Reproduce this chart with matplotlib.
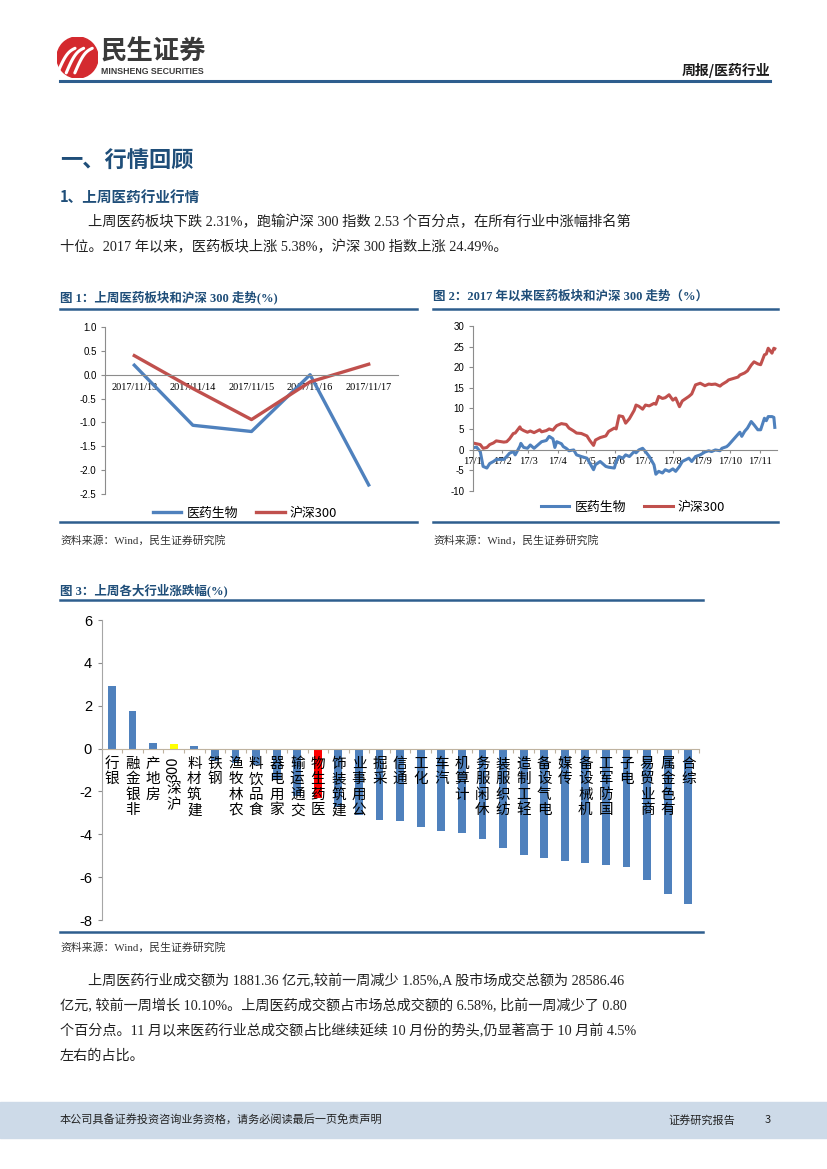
import numpy as np
import pandas as pd
import matplotlib
matplotlib.use('Agg')
from matplotlib import pyplot as plt
import matplotlib.transforms as mtrans
from matplotlib.patches import Rectangle, Circle

plt.rcParams['font.family'] = ['Noto Sans CJK SC', 'DejaVu Sans']
plt.rcParams['axes.unicode_minus'] = False

W, H = 827, 1169

# 图1 上周医药板块和沪深300走势
week_days = ['2017/11/13', '2017/11/14', '2017/11/15', '2017/11/16', '2017/11/17']
week_yiyao = [0.20, -1.06, -1.19, 0.00, -2.31]
week_hs300 = [0.40, -0.29, -0.94, -0.15, 0.22]

# 图2 2017年以来走势
ytd_dates = ['01-03', '01-05', '01-09', '01-12', '01-16', '01-19', '01-23', '01-26',
             '02-03', '02-06', '02-09', '02-13', '02-15', '02-20', '02-21', '02-24',
             '02-28', '03-03', '03-07', '03-13', '03-15', '03-20', '03-23', '03-27',
             '03-29', '03-31', '04-05', '04-07', '04-10', '04-13', '04-18', '04-21',
             '04-26', '05-02', '05-05', '05-09', '05-11', '05-16', '05-22', '05-25',
             '05-31', '06-02', '06-05', '06-09', '06-12', '06-16', '06-21', '06-23',
             '06-26', '06-30', '07-03', '07-07', '07-12', '07-14', '07-17', '07-21',
             '07-24', '07-28', '08-01', '08-04', '08-08', '08-11', '08-18', '08-21',
             '08-25', '08-30', '09-04', '09-08', '09-11', '09-15', '09-20', '09-22',
             '09-27', '09-29', '10-09', '10-11', '10-13', '10-16', '10-19', '10-23',
             '10-26', '10-30', '11-02', '11-06', '11-08', '11-10', '11-14', '11-16',
             '11-17']
ytd_yiyao = [0.5, 0.6, -0.5, -4.1, -4.5, -3.4, -2.9, -2.4,
             -2.4, -1.7, -0.9, -0.5, -1.3, 0.8, 1.5, 0.5,
             0.3, 1.1, 0.3, 1.5, 1.9, 2.2, 3.2, 2.6,
             0.5, 1.9, 1.4, 0.7, 0.3, -0.3, -0.1, -1.3,
             -1.7, -2.1, -3.3, -4.9, -3.7, -2.9, -4.1, -4.3,
             -4.5, -2.9, -1.7, -2.1, -1.3, -1.7, -0.5, -0.8,
             -0.1, 0.3, -0.5, -1.7, -3.7, -6.0, -5.3, -5.7,
             -4.9, -5.3, -4.7, -5.3, -4.1, -2.9, -2.1, -2.9,
             -1.7, -1.3, -0.6, -0.3, -0.5, -0.1, -0.3, 0.3,
             0.7, 1.1, 3.7, 4.2, 3.2, 4.4, 5.2, 6.8,
             6.0, 4.8, 4.8, 7.6, 7.0, 8.0, 8.0, 7.8,
             5.38]
ytd_hs300 = [1.5, 1.4, 1.2, 0.3, 0.5, 1.2, 1.6, 2.1,
             1.8, 1.9, 2.6, 3.9, 4.0, 5.5, 5.0, 4.6,
             4.2, 4.5, 4.1, 4.8, 4.3, 4.6, 5.0, 4.7,
             5.3, 5.8, 6.3, 6.2, 6.1, 5.2, 4.5, 4.0,
             3.9, 3.3, 2.2, 1.0, 2.3, 2.9, 3.3, 4.4,
             5.2, 5.0, 8.2, 8.0, 6.4, 7.5, 9.5, 10.8,
             10.5, 9.8, 10.8, 10.6, 11.2, 11.0, 12.9, 12.4,
             12.6, 13.3, 12.0, 12.5, 10.4, 11.8, 12.9, 13.5,
             15.7, 16.1, 15.5, 15.9, 15.8, 15.9, 15.4, 15.8,
             16.5, 16.9, 17.6, 18.1, 18.3, 18.6, 19.1, 20.5,
             21.3, 20.8, 20.6, 23.0, 23.2, 24.6, 23.4, 24.6,
             24.49]
month_labels = ['17/1', '17/2', '17/3', '17/4', '17/5', '17/6',
                '17/7', '17/8', '17/9', '17/10', '17/11']

# 图3 上周各大行业涨跌幅
industries = ['银行', '非银金融', '房地产', '沪深300', '建筑材料', '钢铁', '农林牧渔',
              '食品饮料', '家用电器', '交通运输', '医药生物', '建筑装饰', '公用事业', '采掘',
              '通信', '化工', '汽车', '计算机', '休闲服务', '纺织服装', '轻工制造',
              '电气设备', '传媒', '机械设备', '国防军工', '电子', '商业贸易', '有色金属', '综合']
industry_chg = [2.91, 1.76, 0.26, 0.22, 0.10, -0.60, -0.65,
                -0.78, -1.48, -2.22, -2.31, -2.74, -3.10, -3.31,
                -3.39, -3.66, -3.84, -3.94, -4.22, -4.65, -4.95,
                -5.12, -5.26, -5.32, -5.41, -5.54, -6.13, -6.80, -7.27]

BLUE = '#4F81BD'
RED = '#C0504D'
NAVY = '#1F4E79'
RULE = '#2E5E8E'
AXIS = '#8C8C8C'
SERIF = ['Liberation Serif', 'Noto Sans CJK SC']

fig = plt.figure(figsize=(W / 100, H / 100), dpi=100)


def box(l, t, r, b):
    return [l / W, 1 - b / H, (r - l) / W, (b - t) / H]


def ftext(x, y, s, **kw):
    kw.setdefault('va', 'center')
    fig.text(x / W, 1 - y / H, s, **kw)


def hline(x0, x1, y, color=RULE, lw=1.8):
    fig.add_artist(plt.Line2D([x0 / W, x1 / W], [1 - y / H, 1 - y / H], color=color, lw=lw))


def stack_label(ax, tr, x, label, top_y, size=10.5, pitch=15.5):
    # 竖排标签：从下往上读，汉字直立，数字旋转
    tokens = []
    for ch in label:
        if ch.isascii() and tokens and tokens[-1].isascii():
            tokens[-1] += ch
        else:
            tokens.append(ch)
    y = top_y
    for tok in reversed(tokens):
        if tok.isascii():
            h = len(tok) * size * 1.389 * 0.58
            ax.text(x, 1 - (y + h / 2) / H, tok, transform=tr, rotation=90, ha='center',
                    va='center', fontsize=size, color='black', zorder=5)
        else:
            h = pitch
            ax.text(x, 1 - (y + h / 2) / H, tok, transform=tr, ha='center', va='center',
                    fontsize=size, color='black', zorder=5)
        y += h


# ---- 页眉
logo = fig.add_axes(box(57, 37, 98, 78))
logo.set_xlim(-1, 1)
logo.set_ylim(-1, 1)
logo.set_aspect('equal')
logo.axis('off')
logo.add_patch(Circle((0, 0), 1, color='#D42A2F'))
for d in [-0.42, 0.0, 0.42]:
    t = np.linspace(0, 1, 20)
    xx = -0.55 + d + 0.85 * t
    yy = -0.75 + 1.2 * t + 0.25 * np.sin(np.pi * t)
    logo.plot(xx, yy, color='white', lw=2.2, solid_capstyle='round')
ftext(101, 52, '民生证券', fontsize=19, fontweight='bold', color='#3A3A3A')
ftext(101, 72, 'MINSHENG SECURITIES', fontsize=6.3, fontweight='bold', color='#3A3A3A',
      family=['Liberation Sans Narrow', 'Liberation Sans'])
ftext(770, 70, '周报/医药行业', fontsize=10, fontweight='bold', color='#1A1A1A', ha='right')
hline(60, 770, 80.5, lw=2.2)

# ---- 正文
ftext(60, 161, '一、行情回顾', fontsize=16, fontweight='bold', color=NAVY)
ftext(60, 197, '1、上周医药行业行情', fontsize=10.5, fontweight='bold', color=NAVY)
ftext(88, 222, '上周医药板块下跌 2.31%，跑输沪深 300 指数 2.53 个百分点，在所有行业中涨幅排名第',
      fontsize=10.3, color='#222222', family=SERIF)
ftext(60, 247, '十位。2017 年以来，医药板块上涨 5.38%，沪深 300 指数上涨 24.49%。',
      fontsize=10.3, color='#222222', family=SERIF)

# ---- 图1
ftext(60, 297, '图 1：上周医药板块和沪深 300 走势(%)', fontsize=9, fontweight='bold',
      color=NAVY, family=SERIF)
hline(60, 417, 309)
hline(60, 417, 522)
ftext(60, 540, '资料来源：Wind，民生证券研究院', fontsize=7.8, color='#333333', family=SERIF)

ax1 = fig.add_axes(box(105, 327, 398, 494))
ax1.spines['bottom'].set_position(('data', 0))
xs1 = np.arange(len(week_days))
ax1.plot(xs1, week_yiyao, color=BLUE, lw=2.4, label='医药生物')
ax1.plot(xs1, week_hs300, color=RED, lw=2.4, label='沪深300')
ax1.set_xlim(-0.5, len(week_days) - 0.5)
ax1.set_ylim(-2.5, 1.0)
yt1 = np.arange(-2.5, 1.01, 0.5)
ax1.set_yticks(yt1)
ax1.set_yticklabels([f'{v:.1f}' for v in yt1], fontsize=7, family='Liberation Sans')
ax1.set_xticks(xs1)
ax1.set_xticklabels(week_days, fontsize=7.4, family='Liberation Serif')
for s in ['top', 'right']:
    ax1.spines[s].set_visible(False)
for s in ['left', 'bottom']:
    ax1.spines[s].set_color(AXIS)
    ax1.spines[s].set_linewidth(0.8)
ax1.tick_params(axis='x', length=0, pad=6)
ax1.tick_params(axis='y', length=3, color=AXIS, pad=3)
ax1.set_facecolor('none')
ax1.legend(loc='center', bbox_to_anchor=(245 / W, 1 - 513 / H), bbox_transform=fig.transFigure,
           ncol=2, frameon=False, fontsize=9.3, handlelength=2.2, handletextpad=0.4,
           columnspacing=1.4)

# ---- 图2
ftext(433, 297, '图 2：2017 年以来医药板块和沪深 300 走势（%）', fontsize=9, fontweight='bold',
      color=NAVY, family=SERIF)
hline(433, 778, 309)
hline(433, 778, 522)
ftext(433, 540, '资料来源：Wind，民生证券研究院', fontsize=7.8, color='#333333', family=SERIF)

ax2 = fig.add_axes(box(472.7, 326, 776.7, 490.7))
ax2.spines['bottom'].set_position(('data', 0))
dates = pd.to_datetime(['2017-' + d for d in ytd_dates])
ax2.plot(dates, ytd_yiyao, color=BLUE, lw=2.2, label='医药生物')
ax2.plot(dates, ytd_hs300, color=RED, lw=2.2, label='沪深300')
ax2.set_xlim(pd.Timestamp('2017-01-01'), pd.Timestamp('2017-11-19'))
ax2.set_ylim(-10, 30)
yt2 = np.arange(-10, 31, 5)
ax2.set_yticks(yt2)
ax2.set_yticklabels([str(v) for v in yt2], fontsize=7, family='Liberation Sans')
month_ticks = pd.date_range('2017-01-01', periods=len(month_labels), freq='MS')
ax2.set_xticks(month_ticks)
ax2.set_xticklabels(month_labels, fontsize=7.6, family='Liberation Serif')
for s in ['top', 'right']:
    ax2.spines[s].set_visible(False)
for s in ['left', 'bottom']:
    ax2.spines[s].set_color(AXIS)
    ax2.spines[s].set_linewidth(0.8)
ax2.tick_params(axis='x', length=2.5, color=AXIS, pad=3)
ax2.tick_params(axis='y', length=3, color=AXIS, pad=3)
ax2.set_facecolor('none')
ax2.legend(loc='center', bbox_to_anchor=(633 / W, 1 - 507 / H), bbox_transform=fig.transFigure,
           ncol=2, frameon=False, fontsize=9.3, handlelength=2.2, handletextpad=0.4,
           columnspacing=1.4)

# ---- 图3
ftext(60, 590, '图 3：上周各大行业涨跌幅(%)', fontsize=9, fontweight='bold', color=NAVY, family=SERIF)
hline(60, 703, 600)
hline(60, 703, 932)
ftext(60, 947, '资料来源：Wind，民生证券研究院', fontsize=7.8, color='#333333', family=SERIF)

ax3 = fig.add_axes(box(101.7, 620, 698.6, 920))
ax3.spines['bottom'].set_position(('data', 0))
xs3 = np.arange(len(industries))
bar_colors = ['#FF0000' if n == '医药生物' else '#FFFF00' if n == '沪深300' else BLUE
              for n in industries]
ax3.bar(xs3, industry_chg, width=0.38, color=bar_colors, zorder=2)
ax3.set_xlim(-0.5, len(industries) - 0.5)
ax3.set_ylim(-8, 6)
yt3 = np.arange(-8, 7, 2)
ax3.set_yticks(yt3)
ax3.set_yticklabels([str(v) for v in yt3], fontsize=10.5, family='Liberation Sans')
ax3.tick_params(axis='y', length=3, color=AXIS, pad=4)
ax3.set_xticks(np.arange(-0.5, len(industries), 1.0))
ax3.set_xticklabels([])
ax3.tick_params(axis='x', length=3, color='#BFB3A0', direction='out')
ax3.spines['bottom'].set_color('#BFB3A0')
ax3.spines['left'].set_color('#A6A6A6')
for s in ['top', 'right']:
    ax3.spines[s].set_visible(False)
ax3.set_facecolor('none')
lab_tr = mtrans.blended_transform_factory(ax3.transData, fig.transFigure)
for i, name in enumerate(industries):
    stack_label(ax3, lab_tr, i, name, 756)

# ---- 下方正文
para = ['上周医药行业成交额为 1881.36 亿元,较前一周减少 1.85%,A 股市场成交总额为 28586.46',
        '亿元, 较前一周增长 10.10%。上周医药成交额占市场总成交额的 6.58%, 比前一周减少了 0.80',
        '个百分点。11 月以来医药行业总成交额占比继续延续 10 月份的势头,仍显著高于 10 月前 4.5%',
        '左右的占比。']
for k, line in enumerate(para):
    ftext(88 if k == 0 else 60, 981 + 25 * k, line, fontsize=10.2, color='#222222', family=SERIF)

# ---- 页脚
fig.add_artist(Rectangle((0, 1 - 1138 / H), 1, 36 / H, transform=fig.transFigure,
                         color='#CDDAE8', zorder=0))
ftext(60, 1120, '本公司具备证券投资咨询业务资格，请务必阅读最后一页免责声明', fontsize=8, color='#222222')
ftext(668, 1120, '证券研究报告', fontsize=8, color='#222222')
ftext(765, 1120, '3', fontsize=8, color='#222222')

fig.savefig('out.png', dpi=100)
